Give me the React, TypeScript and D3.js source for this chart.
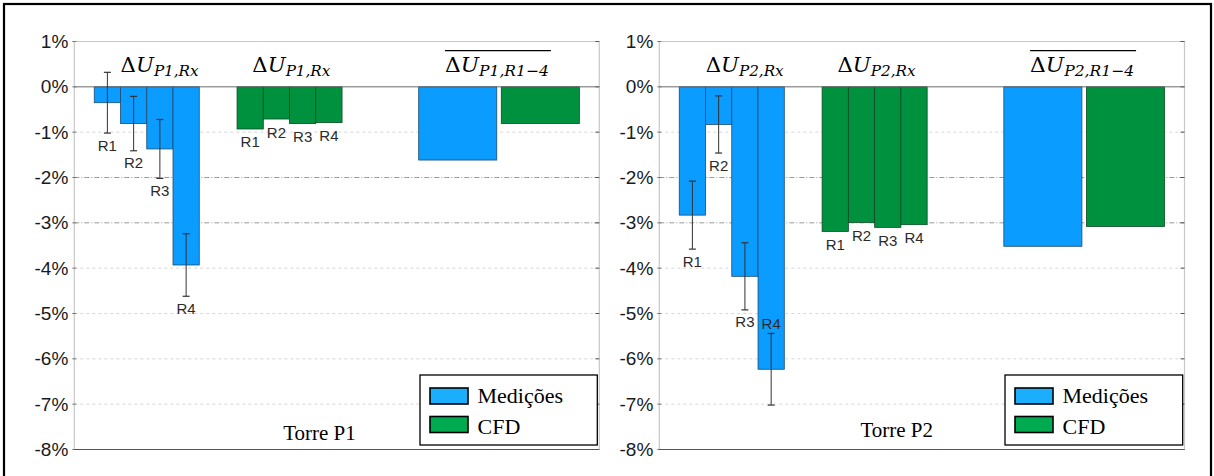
import React from "react";
import * as d3 from "d3";

// Receptor categories and relative wind speed change (%), per tower
const receptors = ["R1", "R2", "R3", "R4"];
const p1Medicoes = [-0.35, -0.81, -1.37, -3.93];
const p1MedicoesErr = [0.67, 0.6, 0.65, 0.69];
const p1Cfd = [-0.93, -0.71, -0.81, -0.79];
const p2Medicoes = [-2.83, -0.83, -4.18, -6.23];
const p2MedicoesErr = [0.75, 0.63, 0.74, 0.79];
const p2Cfd = [-3.19, -2.99, -3.1, -3.04];
const yTicks = [1, 0, -1, -2, -3, -4, -5, -6, -7, -8];
const legendItems = ["Medições", "CFD"];

const W = 1214;
const H = 476;
const PLOT_TOP = 41.5;
const PLOT_BOTTOM = 449.5;

const BLUE = "#0a9cff";
const GREEN = "#00913f";
const BLUE_LEG = "#1aaefc";
const GREEN_LEG = "#00aa50";

type PanelProps = {
  left: number;
  right: number;
  tower: string;
  med: number[];
  err: number[];
  cfd: number[];
  // receptors whose label sits above the error bar instead of below
  labelAbove: string[];
  torreX: number;
  torreY: number;
  legendX: number;
  legendW: number;
};

function MathLabel({ x, y, sub, over, width }: { x: number; y: number; sub: string; over?: boolean; width: number }) {
  return (
    <g>
      <text
        x={x}
        y={y}
        textAnchor="middle"
        fontFamily="'DejaVu Serif', serif"
        fontSize={21}
        fill="#000"
        textLength={width}
        lengthAdjust="spacingAndGlyphs"
      >
        <tspan>Δ</tspan>
        <tspan fontStyle="italic">U</tspan>
        <tspan fontStyle="italic" fontSize={15} dy={4}>
          {sub}
        </tspan>
      </text>
      {over && (
        <line x1={x - width / 2} x2={x + width / 2 + 2} y1={50.7} y2={50.7} stroke="#000" strokeWidth={1.3} />
      )}
    </g>
  );
}

function Panel(p: PanelProps) {
  const y = d3.scaleLinear().domain([-8, 1]).range([PLOT_BOTTOM, PLOT_TOP]);
  // horizontal slot units across the plot
  const x = d3.scaleLinear().domain([0, 20]).range([p.left, p.right]);
  const medBand = d3.scaleBand<string>().domain(receptors).range([x(0.76), x(4.76)]).padding(0);
  const cfdBand = d3.scaleBand<string>().domain(receptors).range([x(6.2), x(10.2)]).padding(0);
  const avgBand = d3.scaleBand<string>().domain(legendItems).range([x(13.12), x(19.24)]).paddingInner(0.055);
  const avgs = [d3.mean(p.med) as number, d3.mean(p.cfd) as number];
  const avgColors = [BLUE, GREEN];

  const gridStyle = (t: number) =>
    t === -2 || t === -3
      ? { stroke: "#9a9a9a", dash: "5,2,1,2" }
      : { stroke: "#d6d6d6", dash: "3,3" };

  return (
    <g>
      {/* gridlines */}
      {yTicks
        .filter((t) => t !== 0 && t !== 1 && t !== -8)
        .map((t) => {
          const s = gridStyle(t);
          return (
            <line key={t} x1={p.left} x2={p.right} y1={y(t)} y2={y(t)} stroke={s.stroke} strokeDasharray={s.dash} strokeWidth={1} />
          );
        })}
      {/* plot frame */}
      <line x1={p.left} x2={p.right} y1={y(1)} y2={y(1)} stroke="#c8c8c8" strokeWidth={1.2} />
      <line x1={p.left} x2={p.left} y1={y(1)} y2={y(-8)} stroke="#c8c8c8" strokeWidth={1.2} />
      <line x1={p.right} x2={p.right} y1={y(1)} y2={y(-8)} stroke="#c8c8c8" strokeWidth={1.2} />
      {/* tick marks */}
      {yTicks.map((t) => (
        <g key={"tk" + t}>
          <line x1={p.left - 2} x2={p.left + 2} y1={y(t)} y2={y(t)} stroke="#777" strokeWidth={1} />
          <line x1={p.right - 4} x2={p.right} y1={y(t)} y2={y(t)} stroke="#555" strokeWidth={1} />
        </g>
      ))}
      {/* tick labels */}
      {yTicks.map((t) => (
        <text
          key={"lb" + t}
          x={p.left - 6}
          y={y(t) + 6.5}
          textAnchor="end"
          fontFamily="'Liberation Sans', Arial, sans-serif"
          fontSize={19}
          fill="#1a1a1a"
        >
          {t + "%"}
        </text>
      ))}

      {/* measured bars */}
      {receptors.map((r, i) => (
        <rect
          key={"m" + r}
          x={medBand(r)}
          y={y(0)}
          width={medBand.bandwidth()}
          height={y(p.med[i]) - y(0)}
          fill={BLUE}
          stroke="#1f4a70"
          strokeWidth={0.8}
        />
      ))}
      {/* CFD bars */}
      {receptors.map((r, i) => (
        <rect
          key={"c" + r}
          x={cfdBand(r)}
          y={y(0)}
          width={cfdBand.bandwidth()}
          height={y(p.cfd[i]) - y(0)}
          fill={GREEN}
          stroke="#0d4a25"
          strokeWidth={0.8}
        />
      ))}
      {/* averages */}
      {legendItems.map((k, i) => (
        <rect
          key={"a" + k}
          x={avgBand(k)}
          y={y(0)}
          width={avgBand.bandwidth()}
          height={y(avgs[i]) - y(0)}
          fill={avgColors[i]}
          stroke={i === 0 ? "#1f4a70" : "#0d4a25"}
          strokeWidth={0.8}
        />
      ))}

      {/* zero line */}
      <line x1={p.left} x2={p.right} y1={y(0)} y2={y(0)} stroke="#6a6a6a" strokeWidth={1} />
      <line x1={p.left} x2={p.right} y1={y(-8)} y2={y(-8)} stroke="#555" strokeWidth={1.2} />

      {/* error bars and receptor labels */}
      {receptors.map((r, i) => {
        const cx = (medBand(r) as number) + medBand.bandwidth() / 2;
        const top = y(p.med[i] + p.err[i]);
        const bot = y(p.med[i] - p.err[i]);
        const above = p.labelAbove.includes(r);
        return (
          <g key={"e" + r}>
            <line x1={cx} x2={cx} y1={top} y2={bot} stroke="#333" strokeWidth={1} />
            <line x1={cx - 3.5} x2={cx + 3.5} y1={top} y2={top} stroke="#333" strokeWidth={1.2} />
            <line x1={cx - 3.5} x2={cx + 3.5} y1={bot} y2={bot} stroke="#333" strokeWidth={1.2} />
            <text
              x={cx}
              y={above ? top - 4 : bot + 17.5}
              textAnchor="middle"
              fontFamily="'Liberation Sans', Arial, sans-serif"
              fontSize={15}
              fill="#2a2a2a"
            >
              {r}
            </text>
          </g>
        );
      })}
      {receptors.map((r, i) => {
        const cx = (cfdBand(r) as number) + cfdBand.bandwidth() / 2;
        return (
          <text
            key={"cl" + r}
            x={cx}
            y={y(p.cfd[i]) + 18.5}
            textAnchor="middle"
            fontFamily="'Liberation Sans', Arial, sans-serif"
            fontSize={15}
            fill="#2a2a2a"
          >
            {r}
          </text>
        );
      })}

      {/* group titles */}
      <MathLabel x={x(3.25)} y={72} sub={`${p.tower},Rx`} width={78} />
      <MathLabel x={x(8.27)} y={72} sub={`${p.tower},Rx`} width={78} />
      <MathLabel x={x(16.1)} y={72} sub={`${p.tower},R1−4`} width={104} over />

      {/* tower caption */}
      <text x={p.torreX} y={p.torreY} textAnchor="middle" fontFamily="'Liberation Serif', 'Times New Roman', serif" fontSize={21} fill="#000">
        {`Torre ${p.tower}`}
      </text>

      {/* legend */}
      <g>
        <rect x={p.legendX} y={375} width={p.legendW} height={70} fill="#fff" stroke="#000" strokeWidth={1.3} />
        {legendItems.map((k, i) => (
          <g key={"lg" + k}>
            <rect
              x={p.legendX + 10}
              y={388 + i * 28.5}
              width={38}
              height={16}
              fill={i === 0 ? BLUE_LEG : GREEN_LEG}
              stroke="#000"
              strokeWidth={1.6}
            />
            <text
              x={p.legendX + 57.5}
              y={402.5 + i * 31.5}
              fontFamily="'Liberation Serif', 'Times New Roman', serif"
              fontSize={22}
              fill="#000"
            >
              {k}
            </text>
          </g>
        ))}
      </g>
    </g>
  );
}

export default function App() {
  return (
    <svg
      width={W}
      height={H}
      viewBox={`0 0 ${W} ${H}`}
      style={{ position: "absolute", left: 0, top: 0, background: "#fff" }}
    >
      <rect x={0} y={0} width={W} height={H} fill="#fff" />
      <rect x={4} y={4} width={1207} height={490} fill="none" stroke="#000" strokeWidth={2.2} />
      <Panel
        left={74.3}
        right={599.3}
        tower="P1"
        med={p1Medicoes}
        err={p1MedicoesErr}
        cfd={p1Cfd}
        labelAbove={[]}
        torreX={319.5}
        torreY={440}
        legendX={420}
        legendW={177.3}
      />
      <Panel
        left={659.3}
        right={1184.5}
        tower="P2"
        med={p2Medicoes}
        err={p2MedicoesErr}
        cfd={p2Cfd}
        labelAbove={["R4"]}
        torreX={896.7}
        torreY={437}
        legendX={1005}
        legendW={177.7}
      />
    </svg>
  );
}
